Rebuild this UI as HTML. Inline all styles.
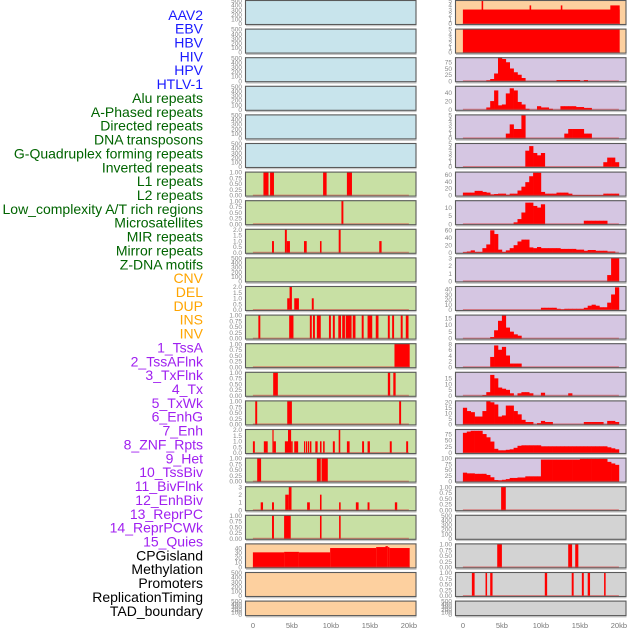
<!DOCTYPE html>
<html><head><meta charset="utf-8">
<style>
html,body{margin:0;padding:0;background:#fff;}
svg{display:block;font-family:"Liberation Sans",sans-serif;}
</style></head>
<body>
<svg id="chart" width="630" height="630" viewBox="0 0 630 630"></svg>
<script>
// ---------- labels ----------
const trackLabels = ["AAV2","EBV","HBV","HIV","HPV","HTLV-1","Alu repeats","A-Phased repeats","Directed repeats","DNA transposons","G-Quadruplex forming repeats","Inverted repeats","L1 repeats","L2 repeats","Low_complexity A/T rich regions","Microsatellites","MIR repeats","Mirror repeats","Z-DNA motifs","CNV","DEL","DUP","INS","INV","1_TssA","2_TssAFlnk","3_TxFlnk","4_Tx","5_TxWk","6_EnhG","7_Enh","8_ZNF_Rpts","9_Het","10_TssBiv","11_BivFlnk","12_EnhBiv","13_ReprPC","14_ReprPCWk","15_Quies","CPGisland","Methylation","Promoters","ReplicationTiming","TAD_boundary"];
const labelColors = ["#1a1aff","#1a1aff","#1a1aff","#1a1aff","#1a1aff","#1a1aff","#006400","#006400","#006400","#006400","#006400","#006400","#006400","#006400","#006400","#006400","#006400","#006400","#006400","#ffa500","#ffa500","#ffa500","#ffa500","#ffa500","#a020f0","#a020f0","#a020f0","#a020f0","#a020f0","#a020f0","#a020f0","#a020f0","#a020f0","#a020f0","#a020f0","#a020f0","#a020f0","#a020f0","#a020f0","#000","#000","#000","#000","#000"];
const xTicks = [0,5,10,15,20];
const xTickLabels = ["0","5kb","10kb","15kb","20kb"];

// ---------- tick sets ----------
const T500 = [0,100,200,300,400,500];
const T1 = [0,0.25,0.5,0.75,1];
const T2 = [0,0.5,1,1.5,2];
const T3 = [0,1,2,3];
const T5 = [0,1,2,3,4,5];

// ---------- left column segments [startKb, endKb, value] ----------
const segL6 = [[1.35,2.0,1],[2.2,2.7,1],[9.0,9.45,1],[12.05,12.7,1]];
const segL7 = [[11.35,11.6,1]];
const segL8 = [[2.45,2.7,1],[4.1,4.35,2],[4.35,4.75,1],[6.55,6.9,1],[8.6,8.8,1],[11.0,11.25,2],[16.2,16.5,1]];
const segL10 = [[4.4,4.7,1],[4.7,5.0,2],[5.3,5.9,1],[7.55,7.8,1]];
const segL11 = [[0.7,0.95,1],[4.65,5.2,1],[7.3,7.55,1],[7.7,7.95,1],[8.2,8.7,1],[9.75,10.0,1],[10.25,10.5,1],[10.95,11.3,1],[11.45,11.8,1],[11.9,12.65,1],[12.8,13.15,1],[13.95,14.2,1],[14.7,15.3,1],[15.75,16.1,1],[17.3,17.55,1],[17.85,18.1,1],[18.95,19.2,1],[19.6,19.95,1]];
const segL12 = [[18.15,20.1,1]];
const segL13 = [[2.6,3.2,1],[17.3,17.6,1],[18.0,18.3,1]];
const segL14 = [[0.3,0.55,1],[4.4,5.0,1],[18.75,19.0,1]];
const segL15 = [[0,0.25,1],[1.4,1.9,1],[2.5,2.65,2],[2.65,2.95,1],[4.1,4.5,1],[4.5,4.9,2],[4.9,5.1,1],[5.3,5.8,1],[6.55,6.7,1],[6.8,6.95,1],[7.05,7.2,1],[7.3,7.5,1],[8.0,8.3,1],[8.6,8.8,1],[9.0,9.2,1],[10.25,10.5,1],[11.0,11.2,2],[12.05,12.4,1],[14.0,14.25,1],[14.7,15.0,1],[17.55,17.8,1],[19.65,19.9,1]];
const segL16 = [[0.55,1.05,1],[8.2,8.7,1],[8.8,9.6,1]];
const segL17 = [[1.0,1.3,1],[2.45,2.7,1],[4.15,4.6,2],[4.6,4.95,3],[6.95,7.3,1],[8.6,8.8,2],[11.05,11.25,1],[13.2,13.55,1],[14.7,14.95,1],[18.2,18.5,1]];
const segL18 = [[2.45,2.7,1],[4.0,4.85,1],[8.6,8.8,1],[11.05,11.25,1]];
const segL19 = [[0,4.0,31],[4.0,5.9,32],[5.9,9.9,31],[9.9,15.8,40],[15.8,17.0,42],[17.0,17.3,44],[17.3,17.5,42],[17.5,20.1,40]];

// ---------- right column ----------
const segR0 = [[0,20.1,3.1],[2.4,2.6,5],[8.55,8.75,4],[12.55,12.75,4],[18.9,20.1,4]];
const segR1 = [[0,20.1,5]];
// binned values, 0.5kb bins (40 bins)
const binR2 = [0,0,0,0,0,0,3,8,30,95,88,75,50,35,25,12,0,0,0,0,0,0,0,0,4,4,4,4,4,4,0,4,0,0,0,0,0,0,0,0];
const binR3 = [0,0,0,0,0,0,5,20,45,10,12,38,50,45,18,12,2,0,0,8,5,5,2,0,0,8,8,8,8,6,6,4,4,0,0,0,0,0,0,0];
const binR4 = [0,0,0,0,0,0,0,0,0,0,0,1,3,2,2,5,0,0,0,0,0,0,0,0,0,0,1,2,2,2,2,1,1,0,0,0,0,0,0,0];
const binR5 = [0,0,0,0,0,0,0,0,0,0,0,0,0,0,0,0,3.5,4.5,3,2.5,3,0,0,0,0,0,0,0,0,0,0,0,0,0,0,0,1,2,2,1];
const binR6 = [8,8,8,13,13,10,8,3,4,5,5,2,5,5,14,25,38,55,65,65,10,5,5,5,8,8,8,5,1,1,1,1,1,1,1,1,5,5,5,5];
const binR7 = [0,0,0,0,0,0,0,0,0,0,0,0,0,1,3,7,13,13,11,10,12,0,0,0,0,0,0,0,0,0,0,2,2,2,2,2,2,0,0,0];
const binR8 = [1,3,6,2,2,12,22,60,50,8,2,6,12,20,30,35,35,14,12,15,12,12,12,12,12,10,10,10,10,8,8,5,7,7,5,5,5,3,3,0];
const binR9 = [0,0,0,0,0,0,0,0,0,0,0,0,0,0,0,0,0,0,0,0,0,0,0,0,0,0,0,0,0,0,0,0,0,0,0,0,0,0.8,3,3];
const binR10 = [0,0,0,0,0,0,0,0,0,0,0,0,0,0,0,0,0,0,0,0,4,4,4,4,2,1,2,2,2,2,2,4,8,10,8,5,5,14,30,44];
const binR11 = [0,0,0,0,0,0,0,1,6,13,17,8,5,3,2,0,0,0,0,0,0,0,0,0,0,0,0,0,0,0,0,0,0,0,0,0,0,0,0,0];
const binR12 = [0,0,0,0,0,0,0,3.5,7.5,6,7,4,1.2,1.2,1.2,0,0,0,0,0,0,0,0,0,0,0,0,0,0,0,0,0,0,0,0,0,0,0,0,0];
const binR13 = [0,0,0,0,0,0.5,3,18,15,7,6,5,2,0,2,3,3,2,0,0,2.5,0,0,0,0,0,0,2,0,0,0,0,0,0,0,0,0,0,0,0];
const binR14 = [15,12,11,7,7,12,21,20,18,7,8,17,17,12,9,4,2,2,0,1,3,2,2,0,0,0,0,0,0,0,0,2,2,2,2,2,0,3,3,2];
const binR15 = [80,85,88,88,88,75,62,45,16,10,10,12,14,20,28,30,30,30,30,30,26,26,26,26,26,26,26,26,26,26,26,26,26,26,26,26,26,22,18,14];
const binR16 = [38,35,35,33,33,33,28,18,6,5,7,10,15,15,17,17,22,22,22,22,95,95,95,95,95,95,95,95,95,95,98,98,98,98,98,98,98,85,78,72];
const segR17 = [[4.9,5.5,1]];
const segR19 = [[4.4,5.0,1],[13.5,14.0,1],[14.4,14.8,1]];
const segR20 = [[1.15,1.5,1],[2.9,3.1,1],[3.5,3.8,1],[10.5,10.8,1],[13.95,14.2,1],[15.25,15.5,1],[16.0,16.3,1],[18.1,18.3,1]];

const BLUE="#c8e4ec", GREEN="#c8e0a4", ORANGE="#fdd09f", PURPLE="#d5c6e2", GRAY="#d3d3d3";
const panels = [];
for (let r=0;r<22;r++){
  let bg = r<6?BLUE:(r<19?GREEN:ORANGE);
  panels.push({col:0,row:r,bg:bg,ymax:500,ticks:T500,seg:null,bins:null});
}
function setL(r,seg,ymax,ticks){panels[r].seg=seg;panels[r].ymax=ymax;panels[r].ticks=ticks;}
setL(6,segL6,1,T1);setL(7,segL7,1,T1);setL(8,segL8,2,T2);setL(10,segL10,2,T2);
setL(11,segL11,1,T1);setL(12,segL12,1,T1);setL(13,segL13,1,T1);setL(14,segL14,1,T1);
setL(15,segL15,2,T2);setL(16,segL16,1,T1);setL(17,segL17,3,T3);setL(18,segL18,1,T1);
setL(19,segL19,48,[0,10,20,30,40]);
const rightDefs = [
 {bg:ORANGE,seg:segR0,ymax:5,ticks:T5},
 {bg:ORANGE,seg:segR1,ymax:5,ticks:T5},
 {bg:PURPLE,bins:binR2,ymax:92,ticks:[0,25,50,75]},
 {bg:PURPLE,bins:binR3,ymax:54,ticks:[0,20,40]},
 {bg:PURPLE,bins:binR4,ymax:5,ticks:T5},
 {bg:PURPLE,bins:binR5,ymax:5,ticks:T5},
 {bg:PURPLE,bins:binR6,ymax:66,ticks:[0,20,40,60]},
 {bg:PURPLE,bins:binR7,ymax:14,ticks:[0,5,10]},
 {bg:PURPLE,bins:binR8,ymax:62,ticks:[0,20,40,60]},
 {bg:PURPLE,bins:binR9,ymax:3,ticks:T3},
 {bg:PURPLE,bins:binR10,ymax:45,ticks:[0,10,20,30,40]},
 {bg:PURPLE,bins:binR11,ymax:17,ticks:[0,5,10,15]},
 {bg:PURPLE,bins:binR12,ymax:8,ticks:[0,2,4,6,8]},
 {bg:PURPLE,bins:binR13,ymax:20,ticks:[0,5,10,15]},
 {bg:PURPLE,bins:binR14,ymax:21,ticks:[0,5,10,15,20]},
 {bg:PURPLE,bins:binR15,ymax:92,ticks:[0,25,50,75]},
 {bg:PURPLE,bins:binR16,ymax:100,ticks:[0,25,50,75,100]},
 {bg:GRAY,seg:segR17,ymax:1,ticks:T1},
 {bg:GRAY,ymax:500,ticks:T500},
 {bg:GRAY,seg:segR19,ymax:1,ticks:T1},
 {bg:GRAY,seg:segR20,ymax:1,ticks:T1},
 {bg:GRAY,ymax:500,ticks:T500}
];
rightDefs.forEach((d,r)=>{panels.push({col:1,row:r,bg:d.bg,ymax:d.ymax,ticks:d.ticks,seg:d.seg||null,bins:d.bins||null});});

// ---------- drawing ----------
const NS="http://www.w3.org/2000/svg";
const svg=document.getElementById('chart');
function mk(tag,attrs,parent){const e=document.createElementNS(NS,tag);for(const k in attrs)e.setAttribute(k,attrs[k]);(parent||svg).appendChild(e);return e;}
const colLeft=[245,455], panelW=171.5;
function panelTop(r){return r*28.6;}
function panelH(r){return r===21?15.5:25;}
function xScale(col,kb){return colLeft[col]+7.9+kb*7.8;}
function yScale(p,v){const top=panelTop(p.row)+0.8, bot=panelTop(p.row)+panelH(p.row)-1.2;return bot-(v/p.ymax)*(bot-top);}
function fmt(ticks,v){if(ticks===T1)return v.toFixed(2);if(ticks===T2)return v.toFixed(1);return String(v);}

// labels
trackLabels.forEach((t,i)=>{
  const el=mk('text',{x:203,y:19.8+i*13.86,'text-anchor':'end','font-size':14,fill:labelColors[i]});
  el.textContent=t;
  
  
});

panels.forEach(p=>{
  const g=mk('g',{});
  
  
  const x0=colLeft[p.col], y0=panelTop(p.row), h=panelH(p.row);
  mk('rect',{x:x0,y:y0,width:panelW,height:h,fill:p.bg},g);
  p.ticks.forEach(v=>{
    const t=mk('text',{x:x0-3,y:yScale(p,v)+2.3,'text-anchor':'end','font-size':6.5,fill:'#888'},g);
    t.textContent=fmt(p.ticks,v);
    
    
  });
  if(p.seg){
    p.seg.forEach(s=>{
      const ya=yScale(p,s[2]), yb=yScale(p,0);
      const r=mk('rect',{x:xScale(p.col,s[0]),y:ya,width:Math.max(1.2,xScale(p.col,s[1])-xScale(p.col,s[0])),height:yb-ya+0.5,fill:'#ff0000'},g);
      
      
    });
  }
  if(p.bins){
    p.bins.forEach((v,i)=>{
      if(v<=0)return;
      const ya=yScale(p,v), yb=yScale(p,0);
      const r=mk('rect',{x:xScale(p.col,i*0.5),y:ya,width:xScale(p.col,(i+1)*0.5)-xScale(p.col,i*0.5)+0.3,height:yb-ya+0.5,fill:'#ff0000'},g);
      
      
    });
  }
  if(p.seg||p.bins){
    const bl=mk('line',{x1:xScale(p.col,0),x2:xScale(p.col,20),y1:yScale(p,0),y2:yScale(p,0),stroke:'rgba(215,60,60,0.55)','stroke-width':1.6},g);
    
    
  }
  mk('rect',{x:x0+0.5,y:y0+0.5,width:panelW-1,height:h-1,fill:'none',stroke:'#5a5a5a','stroke-width':1.1},g);
  mk('line',{x1:x0+1,x2:x0+panelW,y1:y0+h+0.8,y2:y0+h+0.8,stroke:'#bbb','stroke-width':1},g);
});

// x axis labels
[0,1].forEach(c=>{
  xTicks.forEach((v,i)=>{
    const t=mk('text',{x:xScale(c,v),y:628,'text-anchor':'middle','font-size':7.5,fill:'#777'});
    t.textContent=xTickLabels[i];
    
    
  });
});
</script>
</body></html>
